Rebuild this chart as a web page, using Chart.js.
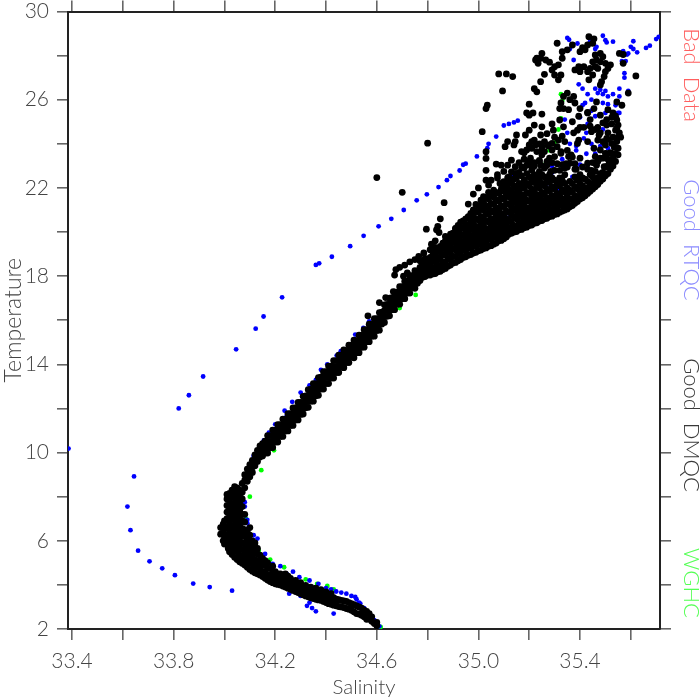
<!DOCTYPE html>
<html><head><meta charset="utf-8">
<style>html,body{margin:0;padding:0;background:#fff}canvas{display:block}</style>
<script src="https://cdn.jsdelivr.net/npm/chart.js@4"></script>
</head><body><canvas id="c" width="700" height="700"></canvas>
<script>
// Each row: salinity, then the temperatures read at that salinity
const dmqcColumns = [
[34.60,2.15,2.3],[34.58,2.35,2.55],[34.56,2.44,2.8],[34.54,2.62,2.95],[34.52,2.7,3.05],[34.50,2.85,3.15],[34.48,2.93,3.25],
[34.46,3.0,3.3],[34.44,3.05,3.35],[34.42,3.12,3.45,3.6],[34.40,3.2,3.55,3.68],[34.38,3.3,3.65,3.78],[34.36,3.35,3.7,3.85],[34.34,3.42,3.75,3.9],
[34.32,3.5,3.85,3.98],[34.30,3.6,3.95,4.1],[34.28,3.7,4.05,4.2],[34.26,3.8,4.15,4.3],[34.24,3.9,4.25,4.5],[34.22,4.0,4.3,4.5],[34.20,4.05,4.35,4.6],
[34.18,4.15,4.45,4.75],[34.16,4.3,4.6,4.9,5.1],[34.14,4.45,4.75,5.05,5.35],[34.12,4.55,4.85,5.15,5.45,5.75,5.9],
[34.10,4.7,5.0,5.3,5.6,5.95,6.25,6.6],[34.08,4.9,5.2,5.5,5.85,6.2,6.5,6.85,7.2,8.4,8.75,9.0],
[34.06,5.05,5.35,5.7,6.0,6.35,6.7,7.0,7.35,7.7,8.0,8.3],[34.04,5.25,5.6,5.95,6.25,6.6,6.95,7.3,7.6,7.95,8.25,8.45],
[34.02,5.5,5.8,6.15,6.5,6.85,7.2,7.5,7.85,8.15],[34.00,5.85,6.2,6.55,6.9],[34.01,7.0,7.3,7.6,7.9,8.1],[33.985,6.3,6.6],
[34.10,8.9,9.15,9.45],[34.12,9.4,9.65,9.9],[34.14,9.8,10.05,10.3],
[34.16,9.98,10.25,10.52],[34.18,10.23,10.5,10.77],[34.20,10.48,10.75,11.02],[34.22,10.73,11.0,11.27],[34.24,10.98,11.25,11.52],
[34.26,11.23,11.5,11.77],[34.28,11.48,11.75,12.02],[34.30,11.73,12.0,12.27],[34.32,12.03,12.3,12.57],[34.34,12.33,12.6,12.87],
[34.36,12.58,12.85,13.12],[34.38,12.88,13.15,13.42],[34.40,13.13,13.4,13.67],[34.42,13.38,13.65,13.92],[34.44,13.63,13.9,14.17],
[34.46,13.88,14.15,14.42],[34.48,14.08,14.35,14.62],[34.50,14.33,14.6,14.87],[34.52,14.53,14.8,15.07],[34.54,14.78,15.05,15.32],
[34.56,15.03,15.3,15.57],[34.58,15.28,15.55,15.82],[34.60,15.53,15.8,16.07],[34.62,15.83,16.1,16.37],[34.64,16.18,16.45,16.72],
[34.66,16.48,16.75,17.02],[34.68,16.73,17.0,17.27],[34.70,16.98,17.25,17.52],[34.72,17.23,17.5,17.77],[34.74,17.48,17.75,18.02],
[34.76,17.68,17.95,18.22],
[34.78,17.95,18.25,18.55],[34.80,18.05,18.35,18.7],[34.82,18.1,18.4,18.7,18.95],[34.84,18.2,18.5,18.85,19.2],
[34.86,18.3,18.6,18.95,19.25,19.5],[34.88,18.45,18.8,19.1,19.45,19.75],[34.90,18.6,18.9,19.25,19.55,19.95],
[34.92,18.7,19.05,19.35,19.7,20.0,20.3],[34.94,18.85,19.2,19.5,19.85,20.2,20.5],[34.96,18.95,19.3,19.65,19.95,20.3,20.7],
[34.98,19.05,19.4,19.75,20.1,20.4,20.75,21.0],[35.00,19.15,19.5,19.85,20.2,20.55,20.9,21.2],
[35.02,19.25,19.6,19.95,20.3,20.65,21.0,21.35,21.6],[35.04,19.35,19.7,20.1,20.45,20.8,21.1,21.5,21.8],
[35.06,19.45,19.8,20.2,20.55,20.9,21.25,21.6,21.9],[35.08,19.6,19.95,20.3,20.65,21.0,21.4,21.75],
[35.10,19.7,20.05,20.4,20.75,21.15,21.5,21.85,22.0],[35.12,19.9,20.2,20.55,20.9,21.25,21.6,21.95,22.2],
[35.14,20.0,20.3,20.7,21.05,21.4,21.75,22.1,22.4],[35.16,20.1,20.45,20.8,21.15,21.5,21.85,22.2,22.7],
[35.18,20.2,20.55,20.9,21.25,21.6,22.0,22.35,22.9],[35.20,20.3,20.65,21.0,21.4,21.75,22.1,22.5,23.2],
[35.22,20.4,20.75,21.15,21.5,21.85,22.25,22.6,23.0],[35.24,20.5,20.85,21.2,21.6,22.0,22.35,22.75,23.2],
[35.26,20.6,20.95,21.35,21.7,22.1,22.5,22.9],[35.28,20.7,21.05,21.45,21.85,22.25,22.6],[35.30,20.8,21.15,21.55,21.95,22.35,22.8],
[35.32,20.9,21.25,21.65,22.1,22.45],[35.34,21.0,21.4,21.8,22.2,22.6],[35.36,21.15,21.5,21.9,22.3],[35.38,21.3,21.65,22.05,22.5],
[35.40,21.5,21.85,22.2,22.6],[35.42,21.65,22.0,22.4],[35.44,21.85,22.2,22.6],[35.46,22.05,22.4,22.75],[35.48,22.3,22.65],
[35.50,22.55,22.95],[35.52,22.85,23.2],[35.54,23.2],
// second pass, between the columns above
[34.59,2.25],[34.57,2.45,2.7],[34.55,2.55,2.85],[34.53,2.68,3.0],[34.51,2.78,3.1],[34.49,2.9,3.2],[34.47,2.97,3.27],[34.45,3.02,3.33],
[34.43,3.08,3.25,3.42],[34.41,3.15,3.35,3.5],[34.39,3.25,3.45,3.6],[34.37,3.32,3.5,3.68],[34.35,3.38,3.55,3.72],[34.33,3.46,3.65,3.8],
[34.31,3.55,3.75,3.9],[34.29,3.65,3.85,4.0],[34.27,3.75,3.95,4.1],[34.25,3.85,4.05,4.2,4.4],[34.23,3.95,4.15,4.4],[34.21,4.02,4.2,4.5],
[34.19,4.1,4.3,4.6,4.85],[34.17,4.22,4.45,4.75,5.0],[34.15,4.38,4.6,4.9,5.2],[34.13,4.5,4.8,5.1,5.4,5.65],[34.11,4.62,4.95,5.25,5.55,5.85,6.0],
[34.09,4.8,5.1,5.4,5.75,6.05,6.4],[34.07,4.98,5.28,5.6,5.92,6.25,6.55,6.9,7.2,7.55,7.9,8.2,8.6],[34.05,5.15,5.5,5.8,6.15,6.45,6.8,7.15,7.45,7.8,8.1,8.4],
[34.03,5.38,5.7,6.05,6.4,6.7,7.05,7.4,7.7,8.05,8.3],[34.015,5.65,5.95,6.3,6.65,6.95],[33.995,6.0,6.35,6.75],
[34.09,8.7,9.0,9.25],[34.11,9.1,9.35,9.65],[34.13,9.6,9.85,10.1],[34.15,9.85,10.15,10.4],
[34.17,9.98,10.25,10.5,10.77],[34.19,10.23,10.5,10.75,11.02],[34.21,10.48,10.75,11.0,11.27],[34.23,10.73,11.0,11.25,11.52],[34.25,10.98,11.25,11.5,11.77],
[34.27,11.23,11.5,11.75,12.02],[34.29,11.48,11.75,12.0,12.27],[34.31,11.75,12.02,12.28,12.55],[34.33,12.05,12.32,12.58,12.85],[34.35,12.33,12.6,12.85,13.12],
[34.37,12.6,12.87,13.13,13.4],[34.39,12.88,13.15,13.4,13.67],[34.41,13.13,13.4,13.65,13.92],[34.43,13.38,13.65,13.9,14.17],[34.45,13.63,13.9,14.15,14.42],
[34.47,13.85,14.12,14.38,14.65],[34.49,14.08,14.35,14.6,14.87],[34.51,14.3,14.57,14.83,15.1],[34.53,14.53,14.8,15.05,15.32],[34.55,14.78,15.05,15.3,15.57],
[34.57,15.03,15.3,15.55,15.82],[34.59,15.28,15.55,15.8,16.07],[34.61,15.55,15.82,16.08,16.35],[34.63,15.9,16.17,16.43,16.7],[34.65,16.2,16.47,16.73,17.0],
[34.67,16.48,16.75,17.0,17.27],[34.69,16.73,17.0,17.25,17.52],[34.71,16.98,17.25,17.5,17.77],[34.73,17.23,17.5,17.75,18.02],[34.75,17.45,17.72,17.98,18.25],
[34.77,17.8,18.1,18.4,18.7],[34.79,17.98,18.2,18.5,18.8],[34.81,18.05,18.25,18.55,18.85],[34.83,18.12,18.35,18.65,19.0,19.2],[34.85,18.22,18.45,18.75,19.1,19.35],
[34.87,18.35,18.65,19.0,19.3,19.6],[34.89,18.5,18.75,19.05,19.35,19.65,19.9],[34.91,18.62,18.9,19.2,19.5,19.8,20.15],[34.93,18.75,19.0,19.3,19.6,19.9,20.2,20.45],
[34.95,18.88,19.15,19.45,19.75,20.05,20.35,20.6],[34.97,18.98,19.25,19.55,19.85,20.15,20.5,20.85],[34.99,19.08,19.35,19.65,19.95,20.25,20.6,20.95,21.25],
[35.01,19.18,19.45,19.75,20.05,20.4,20.7,21.05,21.45],[35.03,19.28,19.55,19.85,20.15,20.5,20.85,21.2,21.55],[35.05,19.38,19.65,19.95,20.3,20.6,20.95,21.3,21.65],
[35.07,19.5,19.75,20.05,20.4,20.75,21.1,21.45,21.8],[35.09,19.62,19.85,20.15,20.5,20.85,21.2,21.55,21.95],[35.11,19.78,20.0,20.3,20.6,20.95,21.3,21.7,22.05],
[35.13,19.95,20.15,20.45,20.8,21.15,21.5,21.85,22.25],[35.15,20.02,20.25,20.6,20.95,21.3,21.65,22.0,22.45],[35.17,20.12,20.35,20.7,21.05,21.35,21.7,22.1,22.55],
[35.19,20.22,20.45,20.8,21.1,21.45,21.8,22.2,22.65],[35.21,20.32,20.55,20.9,21.25,21.6,21.95,22.35,22.8],[35.23,20.42,20.65,21.0,21.35,21.7,22.1,22.5],
[35.25,20.52,20.75,21.1,21.45,21.8,22.2,22.6],[35.27,20.62,20.85,21.2,21.55,21.95,22.35],[35.29,20.72,20.95,21.3,21.65,22.05,22.45],[35.31,20.82,21.05,21.4,21.75,22.2],
[35.33,20.95,21.2,21.5,21.9,22.35],[35.35,21.05,21.3,21.65,22.0],[35.37,21.2,21.45,21.8,22.2],[35.39,21.38,21.6,21.95,22.35],[35.41,21.55,21.78,22.1,22.45],
[35.43,21.75,22.0,22.3],[35.45,21.95,22.2,22.5],[35.47,22.15,22.45],[35.49,22.4,22.7],[35.51,22.65,23.0],[35.53,23.0,23.3],[35.55,23.5,23.8]
];
const dmqcScatter = [
[35.31,28.56],[35.435,28.86],[35.455,28.76],[35.45,28.56],[35.43,28.48],[35.41,28.36],[35.42,28.26],[35.4,28.18],[35.37,28.48],[35.35,28.26],
[35.33,28.18],[35.25,28.1],[35.23,27.88],[35.225,27.8],[35.245,27.88],[35.265,27.8],[35.235,27.65],[35.28,27.7],[35.33,27.88],[35.315,27.58],
[35.3,27.5],[35.29,27.35],[35.26,27.15],[35.3,27.12],[35.325,27.12],[35.315,26.9],[35.245,26.82],[35.22,26.5],[35.23,26.36],[35.095,26.4],
[35.08,27.17],[35.11,27.17],[35.135,27.05],[35.035,25.75],[35.03,25.6],[35.2,25.8],[35.46,28.03],[35.48,28.1],[35.49,27.95],[35.465,27.8],
[35.45,27.72],[35.48,27.72],[35.5,27.65],[35.52,27.58],[35.51,27.42],[35.46,27.5],[35.44,27.42],[35.415,27.5],[35.395,27.5],[35.38,27.35],
[35.4,27.27],[35.43,27.27],[35.47,27.42],[35.435,26.9],[35.45,27.12],[35.5,27.27],[35.495,27.05],[35.485,26.82],[35.48,26.67],[35.555,28.1],
[35.57,27.65],[35.62,27.08],[35.57,28.05],[35.59,26.3],[35.545,25.9],[35.565,25.75],[35.35,26.3],[35.335,26.15],[35.325,25.85],[35.375,26.15],
[35.36,26.0],[35.38,25.85],[35.4,25.6],[35.465,25.9],[35.455,25.6],[35.51,25.55],[35.335,25.6],[35.32,25.6],[35.355,25.55],[35.43,25.43],
[35.19,25.4],[35.215,25.4],[35.25,25.35],[35.015,24.55],[35.03,23.64],[35.03,23.34],[35.03,22.8],[35.07,23.08],[35.09,23.03],[35.13,23.26],
[35.115,23.03],[35.145,22.96],[35.13,22.73],[35.145,22.66],[35.115,24.1],[35.145,24.1],[35.14,23.95],[35.105,23.87],[35.185,24.4],[35.15,24.4],
[35.2,24.62],[35.22,24.85],[35.2,25.3],[35.25,24.77],[35.245,24.4],[35.27,24.46],[35.29,24.9],[35.295,24.62],[35.32,25.08],[35.335,24.77],
[35.22,24.17],[35.26,24.1],[35.29,24.02],[35.315,24.17],[35.17,23.65],[35.19,23.72],[35.21,23.8],[35.23,23.65],[35.26,23.65],[35.29,23.72],
[35.31,23.87],[35.205,23.35],[35.24,23.25],[35.28,23.35],[35.3,23.42],[35.325,23.57],[35.375,24.5],[35.395,24.17],[35.39,24.62],[35.445,24.55],
[35.47,24.17],[35.455,23.8],[35.48,23.72],[35.5,23.95],[35.525,24.02],[35.545,24.1],[35.54,23.57],[35.53,23.35],[35.51,24.5],[35.54,24.62],
[35.555,24.5],[35.525,24.9],[35.545,25.08],[35.55,24.85],[35.505,24.85],[35.53,25.4],[35.54,25.25],[35.48,25.3],[35.43,25.4],[35.39,24.02],
[35.4,23.35],[35.43,23.12],[35.46,23.42],[35.495,22.96],[35.515,23.18],[35.465,23.03],[35.445,22.8],[35.36,23.12],[35.355,23.42],[35.34,22.9],
[35.32,22.8],[35.285,22.75],[35.265,23.0],[34.6,22.47],[34.7,21.8],[34.8,24.03],[34.865,21.33],[34.98,21.72],[35.0,22.0],[34.85,20.6],
[34.795,20.13],[34.84,20.25],[34.835,20.1],[34.845,19.98],[34.83,19.6],[34.815,19.45],[34.83,19.3],[34.81,19.2],[34.91,20.17],[34.87,19.8],
[34.785,19.05],[34.765,18.9],[34.75,18.75],[34.73,18.65],[34.71,18.5],[34.69,18.4],[34.675,18.3],[34.67,18.05],[34.705,18.0],[34.72,18.15],
[34.665,17.3],[34.635,17.03],[34.61,16.8],[34.565,16.2],[34.96,21.27],[35.015,21.27],[35.03,22.35],[35.04,22.13],[35.05,21.7],[35.075,22.45],
[35.1,22.28],[35.12,22.5],
[35.55,24.3],[35.545,24.7],[35.56,24.3],[35.535,23.85],[35.52,23.6],[35.51,23.3],[35.505,23.55],[35.49,23.35],[35.47,23.2],[35.45,23.15],[35.49,24.1],
[35.51,24.2],[35.53,24.3],[35.475,24.4],[35.46,24.65],[35.44,24.8],[35.415,24.75],[35.525,25.2],[35.505,25.1],
[35.16,23.15],[35.18,23.3],[35.2,23.05],[35.22,23.15],[35.25,23.5],[35.27,23.2],[35.29,23.15],[35.31,23.1],[35.33,23.05],[35.35,22.95],[35.38,22.85],
[35.41,22.95],[35.43,22.85],[35.17,22.95],[35.25,23.7],[35.275,23.9],[35.24,24.0],[35.21,24.1],[35.3,24.3],[35.33,24.35],[35.34,24.1],[35.35,23.7],[35.37,23.4],[35.38,23.1],
[35.18,23.6],[35.2,23.95],[35.225,23.95],[35.25,23.87],[35.275,23.95],[35.19,23.03],[35.215,22.95],[35.245,23.03],[35.27,23.03],[35.1,22.75],[35.115,22.45],
[35.075,22.6],[35.05,22.35],[35.085,22.2],[35.13,22.3],[35.325,23.65],[35.345,23.1],[35.365,23.5],[35.385,22.85],[35.47,24.75],[35.49,24.95],[35.44,25.1],
[35.395,25.25],[35.37,25.0],[35.4,24.75],[35.48,24.5],[35.43,24.1],[35.505,24.25],[35.5,23.57],[35.48,23.35],[35.51,22.95]
];
const rtqcPoints = [
[34.046,14.68],[34.123,15.62],[34.154,16.17],[34.227,17.04],[34.36,18.51],[34.373,18.58],[34.423,18.88],[34.495,19.36],[34.548,19.83],[34.607,20.26],
[34.657,20.6],[34.706,21.0],[34.757,21.44],[34.797,21.71],[34.843,22.04],[34.876,22.35],[34.89,22.54],[34.926,22.79],[34.94,23.05],[34.95,23.1],
[34.994,23.43],[35.035,23.8],[35.04,24.0],[35.07,24.33],[35.1,24.83],[35.12,24.9],[35.14,24.97],[35.155,25.05],
[35.35,28.8],[35.357,28.72],[35.39,28.55],[35.49,28.9],[35.5,28.7],[35.505,28.6],[35.53,28.63],[35.61,28.65],[35.6,28.4],[35.61,28.3],[35.625,28.15],
[35.66,28.35],[35.675,28.45],[35.7,28.75],[35.71,28.85],[35.57,28.2],[35.59,28.1],[35.585,28.05],[35.565,27.75],[35.58,27.75],[35.575,27.2],[35.575,27.0],
[35.555,26.5],[35.59,26.4],[35.59,26.3],[35.395,26.7],[35.41,26.5],[35.375,27.8],[35.36,28.3],[35.465,28.4],[35.46,28.3],[35.44,28.65],
[35.46,26.5],[35.48,26.45],[35.5,26.4],[35.47,26.3],[35.49,26.25],[35.43,26.25],[35.445,26.0],[35.53,26.25],[35.51,26.15],[35.555,26.15],
[35.42,25.85],[35.41,25.75],[35.49,25.85],[35.51,25.8],[35.54,25.75],[35.445,25.5],[35.555,25.4],[35.4,25.2],[35.43,24.9],[35.46,25.25],[35.5,25.4],[35.55,25.4],
[35.49,24.65],[35.425,24.5],[35.35,24.5],[35.34,25.1],[35.415,24.25],[35.385,23.7],[35.425,23.55],[35.36,24.0],[35.33,23.3],[35.29,23.0],[35.29,22.7],
[35.37,22.5],[35.4,23.05],[35.46,23.55],[35.445,24.0],[35.51,23.8],[35.325,22.35],[35.27,22.2],[35.315,22.0],[35.13,22.5],[35.385,23.9],[35.48,23.9],
[35.55,24.5],[35.315,23.05],[35.34,23.1],[35.38,22.5],[35.31,21.95],[35.25,21.4],[35.17,21.35],[35.2,21.1],[35.12,20.65],
[34.237,11.9],[34.245,11.65],[34.2,11.28],[34.175,10.9],[34.15,10.43],[34.3,12.72],[34.335,13.05],[34.36,13.3],[34.38,13.75],[34.405,14.0],[34.442,14.4],
[34.458,14.6],[34.515,15.35],[34.547,15.65],[34.57,15.95],[34.267,12.3],[34.115,9.85],[34.155,10.55],[34.08,7.75],[34.08,7.55],[34.08,7.15],[34.055,7.1],
[34.09,6.95],[34.09,6.8],[34.115,6.25],[34.13,6.1],[34.1,5.8],[34.16,5.4],[34.15,5.25],[34.19,4.95],[34.22,4.85],[34.27,4.6],[34.295,4.35],[34.255,3.6],
[34.3,3.5],[34.325,3.05],[34.335,3.2],[34.345,2.95],[34.36,2.8],[34.43,2.7],[34.37,4.05],[34.44,3.7],[34.48,3.6],[34.515,3.45],[34.535,3.15],[34.56,2.75],
[34.59,2.4],[34.61,2.12],[34.245,4.5],[34.335,4.2],
[34.40,3.85],[34.42,3.8],[34.46,3.65],[34.50,3.5],[34.52,3.35],[34.53,3.2],[34.55,2.95],[34.57,2.65],[34.59,2.35],
[33.386,10.18],[33.644,8.92],[33.618,7.55],[33.63,6.48],[33.66,5.55],[33.705,5.07],[33.755,4.75],[33.805,4.44],[33.877,4.06],[33.942,3.9],[34.03,3.74],
[33.82,12.0],[33.86,12.6],[33.916,13.45]
];
const wghcPoints = [
[34.145,9.2],[34.1,8.0],[34.32,4.25],[34.365,4.05],[34.405,3.95],[34.43,3.8],[34.235,4.8],[34.18,5.15],[34.135,5.55],[34.195,10.1],[34.085,7.0],[34.615,2.1],
[35.33,25.95],[35.325,26.25],[35.325,25.15],[35.315,24.65],[35.305,24.1],[35.28,23.7],[35.265,23.1],[34.753,17.15],[34.69,16.55]
];
const badPoints = [];
const xTitle = "Salinity";
const yTitle = "Temperature";
const seriesNames = ["Good  DMQC","Good  RTQC","WGHC","Bad  Data"];
const seriesColors = ["#000000","#0000ff","#00ff00","#ff0000"];
const sideTextColors = ["#3a3a3a","#8c8cff","#55ff55","#ff5f5f"];
const sideTextCentres = [425,240,583,75];

const dmqcPoints = dmqcColumns.flatMap(r => r.slice(1).map(t => [r[0], t])).concat(dmqcScatter);
const toXY = a => a.map(p => ({x:p[0], y:p[1]}));
const FONT = "Lato, 'Open Sans', sans-serif";
const TXT = "#444";
const fix = (w,h) => s => {
  if (w!=null) s.width=w;
  if (h!=null) s.height=h;
  s.paddingTop=0; s.paddingBottom=0; s.paddingLeft=0; s.paddingRight=0;
};
const xOpts = {min:33.384,max:35.715};
const yOpts = {min:2,max:30};
const grid = {drawOnChartArea:false,drawTicks:true,tickLength:11,tickWidth:1.6,tickColor:"#666",lineWidth:1.6,color:"#666"};
const border = {display:true,color:"#222",width:2};

const sideLabels = {
  id:"sideLabels",
  afterDraw(chart){
    const c = chart.ctx;
    chart.data.datasets.forEach((d,i)=>{
      c.save();
      c.translate(691, sideTextCentres[i]);
      c.rotate(Math.PI/2);
      c.font = "300 22px "+FONT;
      c.fillStyle = sideTextColors[i];
      c.textAlign = "center";
      c.textBaseline = "middle";
      c.fillText(d.label,0,0);
      c.restore();
    });
  }
};
const ds = (i,pts,r) => ({label:seriesNames[i],data:toXY(pts),backgroundColor:seriesColors[i],borderWidth:0,pointRadius:r,pointHoverRadius:r,showLine:false});

new Chart(document.getElementById("c"),{
  type:"scatter",
  data:{datasets:[ds(0,dmqcPoints,3.4),ds(1,rtqcPoints,2.4),ds(2,wghcPoints,2.4),ds(3,badPoints,2.4)]},
  options:{
    responsive:false,animation:false,
    layout:{padding:0},
    plugins:{legend:{display:false},tooltip:{enabled:false}},
    scales:{
      x:{type:"linear",position:"bottom",...xOpts,grid,border,afterFit:fix(null,71),
        title:{display:true,text:xTitle,color:TXT,font:{family:FONT,size:20.5,weight:300},padding:{top:0,bottom:0}},
        ticks:{stepSize:0.2,includeBounds:false,autoSkip:false,maxRotation:0,color:TXT,padding:9,font:{family:FONT,size:21,weight:300},
          callback:v=>Math.round(v*10)%4===2?v.toFixed(1):""}},
      x2:{type:"linear",position:"top",...xOpts,grid,border,afterFit:fix(null,11.5),
        ticks:{stepSize:0.2,includeBounds:false,autoSkip:false,maxRotation:0,padding:0,font:{size:1},callback:()=>""}},
      y:{type:"linear",position:"left",...yOpts,grid,border,afterFit:fix(68,null),
        title:{display:true,text:yTitle,color:TXT,font:{family:FONT,size:23,weight:300},padding:{top:0,bottom:0}},
        ticks:{stepSize:2,autoSkip:false,color:TXT,padding:8,font:{family:FONT,size:21,weight:300},
          callback:v=>v%4===2?String(v):""}},
      y2:{type:"linear",position:"right",...yOpts,grid,border,afterFit:fix(40,null),
        ticks:{stepSize:2,autoSkip:false,padding:0,font:{size:1},callback:()=>""}}
    }
  },
  plugins:[sideLabels]
});
</script></body></html>
